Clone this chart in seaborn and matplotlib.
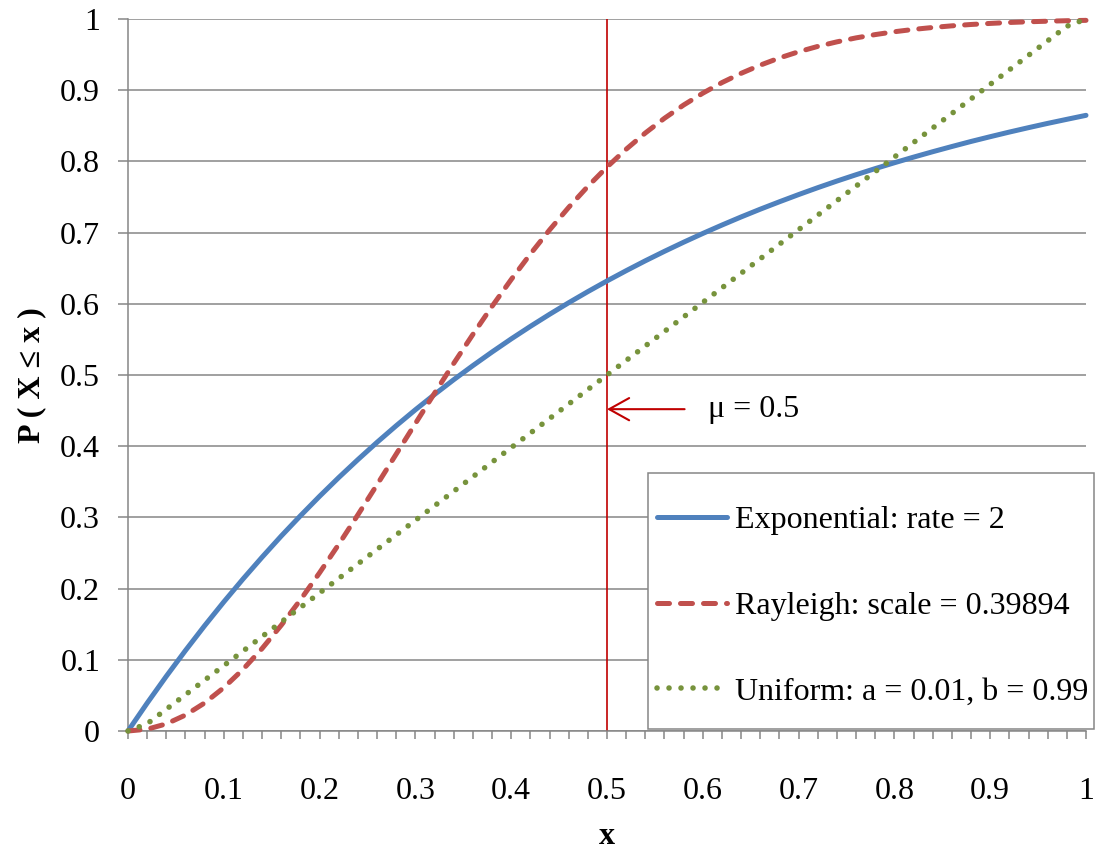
"""
CDF comparison: exponential, Rayleigh and uniform with the same mean (0.5).
"""

import numpy as np
import pandas as pd
import matplotlib
matplotlib.use('Agg')
import matplotlib.pyplot as plt
import seaborn as sns
from matplotlib.lines import Line2D
from matplotlib.patches import Rectangle
from matplotlib.ticker import MultipleLocator, FuncFormatter

sns.set_theme(style='white')
plt.rcParams['font.family'] = ['Liberation Serif', 'DejaVu Serif']
plt.rcParams['font.size'] = 23
plt.rcParams['text.color'] = 'black'
plt.rcParams['axes.labelcolor'] = 'black'
plt.rcParams['xtick.labelcolor'] = 'black'
plt.rcParams['ytick.labelcolor'] = 'black'

BLUE  = '#4F81BD'
RED   = '#C0504D'
GREEN = '#77933C'
MU_RED = '#C00000'
GRID  = '#868686'
FS = 23

# x categories (0.02 steps, as in the sheet)
x_vals = [0.00, 0.02, 0.04, 0.06, 0.08, 0.10, 0.12, 0.14, 0.16, 0.18,
          0.20, 0.22, 0.24, 0.26, 0.28, 0.30, 0.32, 0.34, 0.36, 0.38,
          0.40, 0.42, 0.44, 0.46, 0.48, 0.50, 0.52, 0.54, 0.56, 0.58,
          0.60, 0.62, 0.64, 0.66, 0.68, 0.70, 0.72, 0.74, 0.76, 0.78,
          0.80, 0.82, 0.84, 0.86, 0.88, 0.90, 0.92, 0.94, 0.96, 0.98, 1.00]

exp_cdf = [0.0000, 0.0392, 0.0769, 0.1131, 0.1479, 0.1813, 0.2134, 0.2442, 0.2739, 0.3023,
           0.3297, 0.3560, 0.3812, 0.4055, 0.4288, 0.4512, 0.4727, 0.4934, 0.5132, 0.5323,
           0.5507, 0.5683, 0.5852, 0.6015, 0.6171, 0.6321, 0.6465, 0.6604, 0.6737, 0.6865,
           0.6988, 0.7106, 0.7220, 0.7329, 0.7433, 0.7534, 0.7631, 0.7724, 0.7813, 0.7899,
           0.7981, 0.8060, 0.8136, 0.8209, 0.8280, 0.8347, 0.8412, 0.8474, 0.8534, 0.8591, 0.8647]

ray_cdf = [0.0000, 0.0025, 0.0100, 0.0224, 0.0394, 0.0609, 0.0865, 0.1159, 0.1486, 0.1842,
           0.2223, 0.2622, 0.3037, 0.3460, 0.3890, 0.4319, 0.4745, 0.5163, 0.5570, 0.5964,
           0.6341, 0.6699, 0.7037, 0.7354, 0.7649, 0.7921, 0.8171, 0.8399, 0.8606, 0.8792,
           0.8958, 0.9107, 0.9237, 0.9352, 0.9453, 0.9540, 0.9615, 0.9679, 0.9735, 0.9781,
           0.9821, 0.9854, 0.9881, 0.9904, 0.9923, 0.9938, 0.9951, 0.9961, 0.9969, 0.9976, 0.9981]

unif_cdf = [0.0000, 0.0102, 0.0306, 0.0510, 0.0714, 0.0918, 0.1122, 0.1327, 0.1531, 0.1735,
            0.1939, 0.2143, 0.2347, 0.2551, 0.2755, 0.2959, 0.3163, 0.3367, 0.3571, 0.3776,
            0.3980, 0.4184, 0.4388, 0.4592, 0.4796, 0.5000, 0.5204, 0.5408, 0.5612, 0.5816,
            0.6020, 0.6224, 0.6429, 0.6633, 0.6837, 0.7041, 0.7245, 0.7449, 0.7653, 0.7857,
            0.8061, 0.8265, 0.8469, 0.8673, 0.8878, 0.9082, 0.9286, 0.9490, 0.9694, 0.9898, 1.0000]

series_labels = ['Exponential: rate = 2',
                 'Rayleigh: scale = 0.39894',
                 'Uniform: a = 0.01, b = 0.99']
mu = 0.5
mu_label = 'μ = 0.5'

df = pd.DataFrame({'x': x_vals, 'exp': exp_cdf, 'ray': ray_cdf, 'unif': unif_cdf})

W, H = 1098, 850
fig = plt.figure(figsize=(W / 100, H / 100), dpi=100)
L, R, T, B = 128, 1086, 19, 731
ax = fig.add_axes([L / W, 1 - B / H, (R - L) / W, (B - T) / H])

styles = [
    dict(color=BLUE, lw=3.6, linestyle='-', solid_capstyle='round'),
    dict(color=RED, lw=3.6, linestyle=(0, (2.4, 2.2)), dash_capstyle='round'),
    dict(color=GREEN, lw=4.0, linestyle=(0, (0.01, 2.15)), dash_capstyle='round'),
]
for col, st in zip(['exp', 'ray', 'unif'], styles):
    sns.lineplot(data=df, x='x', y=col, ax=ax, clip_on=False, zorder=3, **st)

# mean marker
ax.plot([mu, mu], [0, 1], color=MU_RED, lw=1.2, zorder=2)
ax.annotate('', xy=(mu, 0.452), xytext=(0.581, 0.452),
            arrowprops=dict(arrowstyle='->,head_length=0.9,head_width=0.5',
                            color=MU_RED, lw=1.5, mutation_scale=16,
                            shrinkA=0, shrinkB=0))
ax.text(0.605, 0.452, mu_label, va='center', ha='left', fontsize=FS)

ax.set_xlim(0, 1)
ax.set_ylim(0, 1)
ax.xaxis.set_major_locator(MultipleLocator(0.1))
ax.xaxis.set_minor_locator(MultipleLocator(0.02))
ax.yaxis.set_major_locator(MultipleLocator(0.1))
fmt = FuncFormatter(lambda v, p: f'{round(v, 2):g}')
ax.xaxis.set_major_formatter(fmt)
ax.yaxis.set_major_formatter(fmt)

ax.yaxis.grid(True, color=GRID, lw=1.1)
ax.set_axisbelow(True)
for s in ['top', 'right']:
    ax.spines[s].set_visible(False)
for s in ['left', 'bottom']:
    ax.spines[s].set_color(GRID)
    ax.spines[s].set_linewidth(1.1)

ax.tick_params(axis='x', which='both', direction='out', length=6, width=1.1,
               color=GRID, bottom=True, pad=27, labelsize=FS)
ax.tick_params(axis='y', which='major', direction='out', length=7, width=1.1,
               color=GRID, left=True, pad=13, labelsize=FS)

ax.set_xlabel('x', fontweight='bold', fontsize=FS, labelpad=12)
ax.set_ylabel('P ( X ≤ x )', fontweight='bold', fontsize=FS, labelpad=10)

# legend box (Excel style, spills a little past the plot area)
x0 = (648 - L) / (R - L)
y0 = (B - 729) / (B - T)
x1 = (1094 - L) / (R - L)
y1 = (B - 473) / (B - T)
ax.add_patch(Rectangle((x0, y0), x1 - x0, y1 - y0, transform=ax.transAxes,
                       facecolor='white', edgecolor=GRID, lw=1.1,
                       clip_on=False, zorder=4))
handles = [Line2D([0], [0], **st) for st in styles]
leg = ax.legend(handles, series_labels, loc='upper left',
                bbox_to_anchor=((657 - L) / (R - L), (B - 506) / (B - T)),
                frameon=False, fontsize=FS, borderpad=0, borderaxespad=0,
                handlelength=2.2, handletextpad=0.25, labelspacing=1.76)
leg.set_zorder(5)

fig.savefig('out.png', dpi=100)
